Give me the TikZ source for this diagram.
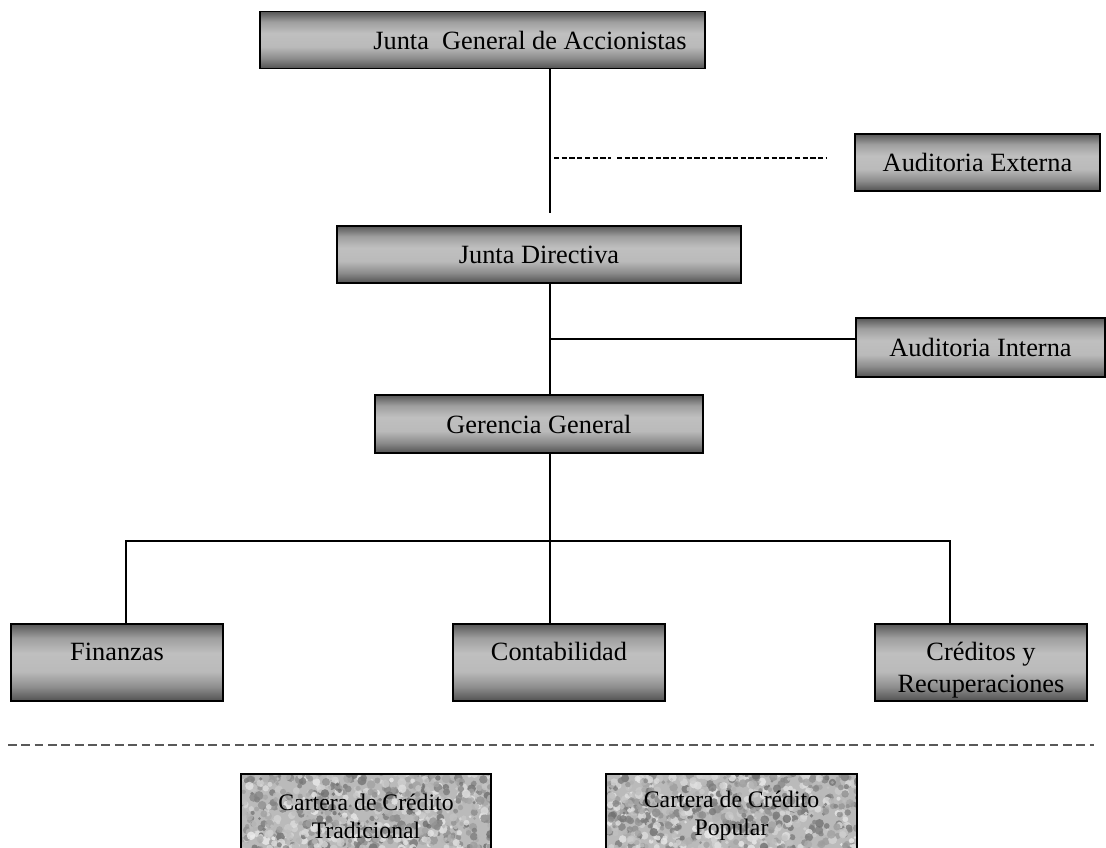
\documentclass[tikz,border=0pt]{standalone}
\usepackage{fontspec}
\setmainfont{Liberation Serif}
\usetikzlibrary{calc}

\pgfdeclareverticalshading{boxshade}{100bp}{color(0bp)=(black!68); color(25bp)=(black!68); color(34bp)=(black!45); color(44bp)=(black!27); color(56bp)=(black!25); color(66bp)=(black!38); color(75bp)=(black!66); color(100bp)=(black!66)}

\tikzset{
	unit/.style={draw=black, line width=1.1pt, shade, shading=boxshade, inner sep=0pt, font=\fontsize{15}{18.5}\selectfont, align=center},
	upper/.style={text height=10pt, text depth=12pt},
	granite/.style={draw=black, line width=1.1pt, fill=black!27, inner sep=0pt, font=\fontsize{13.5}{16}\selectfont, align=center,
		path picture={
			\foreach \i in {1,...,900}{
				\pgfmathsetmacro\gx{rnd}
				\pgfmathsetmacro\gy{rnd}
				\pgfmathsetmacro\gc{int(8+50*rnd)}
				\pgfmathsetmacro\gr{0.8+1.8*rnd}
				\fill[black!\gc, opacity=0.8] ([shift={(\gx*5.1cm,\gy*1.7cm)}]path picture bounding box.south west) circle (\gr pt);
			}
		}},
	link/.style={line width=1.1pt},
	branch/.style={line width=0.8pt},
	dotlink/.style={line width=1.5pt, dash pattern=on 3pt off 1.4pt},
	cutline/.style={line width=0.8pt, black!65, dash pattern=on 5pt off 2.6pt}
}

\begin{document}
\begin{tikzpicture}[x=0.02cm, y=-0.02cm]
		\pgfmathsetseed{11}
		\path[use as bounding box, clip] (0,0) rectangle (1106,848);
		
		% organos de gobierno
		\node[unit, minimum width=8.9cm, minimum height=1.14cm] (jga) at (482.5,40) {\hspace*{1.9cm}Junta\ \ General de Accionistas};
		\node[unit, minimum width=4.9cm, minimum height=1.14cm] (ext) at (977.5,162.5) {Auditoria Externa};
		\node[unit, minimum width=8.08cm, minimum height=1.14cm] (jd) at (539,254.5) {Junta Directiva};
		\node[unit, minimum width=4.98cm, minimum height=1.18cm] (ai) at (980.5,347.5) {Auditoria Interna};
		\node[unit, minimum width=6.56cm, minimum height=1.16cm] (gg) at (539,424) {Gerencia General};
		
		% departamentos
		\node[unit, upper, minimum width=4.24cm, minimum height=1.54cm] (fin) at (117,662.5) {Finanzas};
		\node[unit, upper, minimum width=4.24cm, minimum height=1.54cm] (con) at (559,662.5) {Contabilidad};
		\node[unit, minimum width=4.24cm, minimum height=1.54cm] (cre) at (981,662.5) {\rule{0pt}{19pt}Créditos y\\Recuperaciones};
		
		% carteras
		\node[granite, minimum width=5.0cm, minimum height=1.68cm] (ct) at (366,816) {Cartera de Crédito\\Tradicional};
		\node[granite, minimum width=5.02cm, minimum height=1.68cm] (cp) at (731.5,816) {Cartera de Crédito\\Popular};
		
		\coordinate (s1) at (550,213);
		\coordinate (d1) at (554,158);
		\coordinate (d2) at (611,158);
		\coordinate (d3) at (617,158);
		\coordinate (d4) at (827,158);
		\coordinate (b1) at (550,339);
		\coordinate (h1) at (126,541);
		\coordinate (h2) at (950,541);
		\coordinate (l1) at (8,745);
		\coordinate (l2) at (1094,745);
		
		\draw[link] (jga.south -| s1) -- (s1);
		\draw[dotlink] (d1) -- (d2);
		\draw[dotlink] (d3) -- (d4);
		\draw[link] (jd.south -| s1) -- (gg.north -| s1);
		\draw[link] (b1) -- (b1 -| ai.west);
		\draw[link] (gg.south -| s1) -- (con.north -| s1);
		\draw[branch] (h1 |- fin.north) -- (h1) -- (h2) -- (h2 |- cre.north);
		\draw[cutline] (l1) -- (l2);
	\end{tikzpicture}
\end{document}
